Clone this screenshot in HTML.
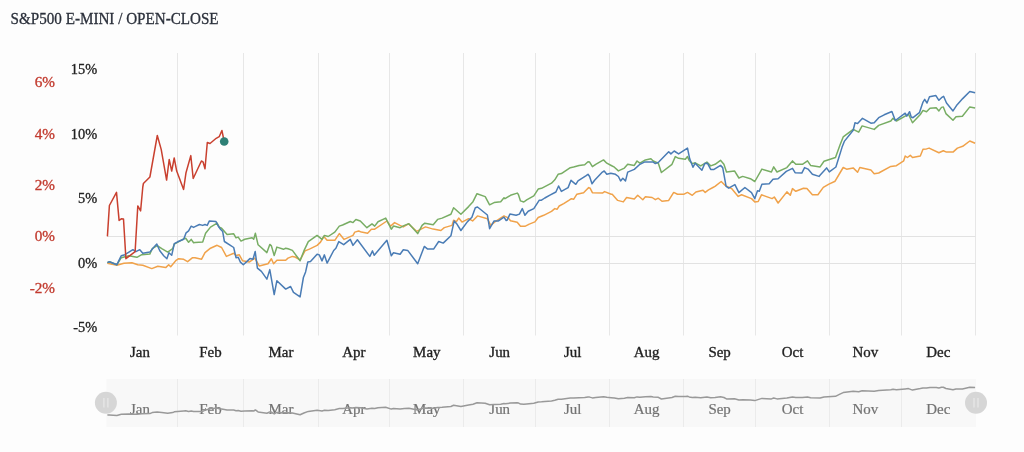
<!DOCTYPE html><html><head><meta charset="utf-8"><style>html,body{margin:0;padding:0;background:#fdfdfd;}svg{display:block;will-change:transform;}</style></head><body>
<svg width="1024" height="452" viewBox="0 0 1024 452">
<rect width="1024" height="452" fill="#fdfdfd"/>
<text x="10.6" y="24.0" font-family="Liberation Serif" font-size="16.2" fill="#2b303b" stroke="#2b303b" stroke-width="0.3" textLength="208" lengthAdjust="spacingAndGlyphs">S&amp;P500 E-MINI / OPEN-CLOSE</text>
<path d="M177.5 53V335.5 M243.5 53V335.5 M318.5 53V335.5 M389.5 53V335.5 M463.5 53V335.5 M535.5 53V335.5 M609.5 53V335.5 M683.5 53V335.5 M755.5 53V335.5 M829.5 53V335.5 M901.5 53V335.5 M975.5 53V335.5" stroke="#e7e7e7" stroke-width="1" fill="none"/>
<path d="M107 236.5H975.5 M107 263.5H975.5" stroke="#e2e2e2" stroke-width="1" fill="none"/>
<text transform="translate(97.2 74.3) scale(1.06 1)" font-family="Liberation Serif" font-size="13.6" fill="#222" stroke="#222" stroke-width="0.3" text-anchor="end">15%</text>
<text transform="translate(97.2 138.9) scale(1.06 1)" font-family="Liberation Serif" font-size="13.6" fill="#222" stroke="#222" stroke-width="0.3" text-anchor="end">10%</text>
<text transform="translate(97.2 203.3) scale(1.06 1)" font-family="Liberation Serif" font-size="13.6" fill="#222" stroke="#222" stroke-width="0.3" text-anchor="end">5%</text>
<text transform="translate(97.2 267.7) scale(1.06 1)" font-family="Liberation Serif" font-size="13.6" fill="#222" stroke="#222" stroke-width="0.3" text-anchor="end">0%</text>
<text transform="translate(97.2 332.2) scale(1.06 1)" font-family="Liberation Serif" font-size="13.6" fill="#222" stroke="#222" stroke-width="0.3" text-anchor="end">-5%</text>
<text transform="translate(55 86.8) scale(1.12 1)" font-family="Liberation Serif" font-size="13.6" fill="#c23b2f" stroke="#c23b2f" stroke-width="0.3" text-anchor="end">6%</text>
<text transform="translate(55 138.9) scale(1.12 1)" font-family="Liberation Serif" font-size="13.6" fill="#c23b2f" stroke="#c23b2f" stroke-width="0.3" text-anchor="end">4%</text>
<text transform="translate(55 189.8) scale(1.12 1)" font-family="Liberation Serif" font-size="13.6" fill="#c23b2f" stroke="#c23b2f" stroke-width="0.3" text-anchor="end">2%</text>
<text transform="translate(55 240.8) scale(1.12 1)" font-family="Liberation Serif" font-size="13.6" fill="#c23b2f" stroke="#c23b2f" stroke-width="0.3" text-anchor="end">0%</text>
<text transform="translate(55 292.7) scale(1.12 1)" font-family="Liberation Serif" font-size="13.6" fill="#c23b2f" stroke="#c23b2f" stroke-width="0.3" text-anchor="end">-2%</text>
<text transform="translate(140.0 357.1) scale(1.10 1)" font-family="Liberation Serif" font-size="13.6" fill="#222" stroke="#222" stroke-width="0.3" text-anchor="middle">Jan</text>
<text transform="translate(210.5 357.1) scale(1.10 1)" font-family="Liberation Serif" font-size="13.6" fill="#222" stroke="#222" stroke-width="0.3" text-anchor="middle">Feb</text>
<text transform="translate(281.0 357.1) scale(1.10 1)" font-family="Liberation Serif" font-size="13.6" fill="#222" stroke="#222" stroke-width="0.3" text-anchor="middle">Mar</text>
<text transform="translate(353.9 357.1) scale(1.10 1)" font-family="Liberation Serif" font-size="13.6" fill="#222" stroke="#222" stroke-width="0.3" text-anchor="middle">Apr</text>
<text transform="translate(426.8 357.1) scale(1.10 1)" font-family="Liberation Serif" font-size="13.6" fill="#222" stroke="#222" stroke-width="0.3" text-anchor="middle">May</text>
<text transform="translate(499.7 357.1) scale(1.10 1)" font-family="Liberation Serif" font-size="13.6" fill="#222" stroke="#222" stroke-width="0.3" text-anchor="middle">Jun</text>
<text transform="translate(572.6 357.1) scale(1.10 1)" font-family="Liberation Serif" font-size="13.6" fill="#222" stroke="#222" stroke-width="0.3" text-anchor="middle">Jul</text>
<text transform="translate(646.7 357.1) scale(1.10 1)" font-family="Liberation Serif" font-size="13.6" fill="#222" stroke="#222" stroke-width="0.3" text-anchor="middle">Aug</text>
<text transform="translate(719.6 357.1) scale(1.10 1)" font-family="Liberation Serif" font-size="13.6" fill="#222" stroke="#222" stroke-width="0.3" text-anchor="middle">Sep</text>
<text transform="translate(792.5 357.1) scale(1.10 1)" font-family="Liberation Serif" font-size="13.6" fill="#222" stroke="#222" stroke-width="0.3" text-anchor="middle">Oct</text>
<text transform="translate(865.4 357.1) scale(1.10 1)" font-family="Liberation Serif" font-size="13.6" fill="#222" stroke="#222" stroke-width="0.3" text-anchor="middle">Nov</text>
<text transform="translate(938.3 357.1) scale(1.10 1)" font-family="Liberation Serif" font-size="13.6" fill="#222" stroke="#222" stroke-width="0.3" text-anchor="middle">Dec</text>
<path d="M107.4 263.3 L116.9 265.3 L123.9 263.3 L131.9 262.7 L137.8 264.7 L142.8 265.3 L151.8 268.6 L157.8 266.3 L165.7 267.6 L168.7 264.7 L170.7 266.7 L175.7 260.7 L178.7 258.7 L183.7 259.3 L187.6 261.7 L192.6 257.7 L195.0 257.7 L201.6 259.2 L205.0 252.6 L210.5 248.2 L217.1 245.3 L221.6 247.5 L226.4 256.4 L233.7 253.3 L236.0 255.5 L239.3 254.8 L242.6 260.8 L249.2 262.1 L254.8 258.1 L259.2 265.9 L268.0 263.7 L271.4 258.8 L273.6 263.7 L276.9 260.3 L285.7 260.3 L288.0 258.1 L292.4 256.4 L295.0 257.0 L300.1 259.9 L305.0 250.9 L309.4 249.1 L317.1 245.4 L320.5 242.1 L323.8 236.5 L327.1 240.3 L334.8 240.3 L339.3 233.6 L344.1 239.4 L353.0 235.4 L354.8 232.1 L358.7 231.0 L361.4 232.1 L367.6 233.2 L371.4 229.2 L374.7 229.2 L386.9 221.0 L390.6 226.1 L394.6 222.6 L400.0 225.4 L403.3 226.9 L408.4 223.8 L416.6 231.3 L425.5 226.9 L433.2 229.1 L440.9 230.5 L444.3 227.6 L452.0 225.4 L453.6 220.3 L456.4 221.6 L458.7 218.1 L462.0 222.1 L468.6 218.7 L472.6 220.9 L477.5 215.9 L487.4 218.7 L490.7 225.4 L495.2 221.6 L504.0 215.9 L505.0 216.4 L508.3 217.9 L510.5 220.8 L517.2 222.3 L520.5 226.3 L524.9 226.3 L529.3 224.1 L534.9 221.9 L538.2 217.5 L543.7 215.3 L551.5 211.3 L554.8 208.6 L557.0 209.3 L559.2 206.0 L563.7 203.7 L569.2 200.2 L571.4 198.7 L573.6 199.3 L576.9 194.2 L583.6 192.7 L586.5 189.8 L588.7 187.6 L590.2 188.3 L592.4 192.7 L602.4 193.1 L604.6 191.6 L611.2 194.2 L612.2 194.2 L617.7 200.4 L623.3 201.9 L626.6 197.5 L634.3 199.1 L637.7 195.3 L642.8 199.7 L645.4 196.8 L652.1 197.5 L655.4 199.7 L658.3 198.2 L662.0 201.3 L668.7 200.4 L673.7 192.4 L677.5 194.2 L684.1 194.2 L687.5 192.4 L692.3 195.3 L695.9 192.0 L703.0 190.2 L705.2 192.4 L708.5 189.8 L712.9 187.5 L715.0 186.4 L721.2 181.5 L725.0 185.3 L731.6 188.6 L738.2 196.4 L741.6 194.8 L751.5 198.6 L754.8 201.9 L758.2 201.5 L761.5 194.8 L772.1 198.6 L774.3 197.0 L778.1 203.0 L786.9 191.9 L790.3 195.3 L792.5 188.6 L795.8 191.3 L803.5 188.2 L806.9 188.6 L812.4 194.8 L817.9 194.8 L823.3 187.4 L828.9 184.1 L835.1 181.2 L839.9 173.0 L843.2 167.5 L846.6 169.2 L853.2 167.9 L857.6 172.3 L859.8 167.5 L870.9 170.1 L874.2 173.7 L878.7 173.0 L890.8 166.4 L896.4 165.7 L903.7 160.8 L905.2 156.0 L907.4 157.5 L910.3 155.3 L912.5 157.5 L920.3 156.0 L923.0 149.3 L926.5 148.9 L929.1 148.1 L938.9 152.8 L943.3 150.7 L946.5 152.1 L953.0 152.1 L957.4 148.1 L962.7 146.3 L969.8 141.0 L975.1 143.3" stroke="#f0a24a" stroke-width="1.5" fill="none" stroke-linejoin="round"/>
<path d="M107.4 262.7 L109.4 261.7 L116.9 264.7 L121.3 257.7 L128.9 255.7 L136.9 257.3 L141.8 254.7 L149.8 254.1 L152.2 248.7 L157.2 245.7 L161.8 248.7 L167.7 252.1 L172.7 248.7 L174.3 244.1 L183.7 238.8 L185.7 238.2 L188.6 242.2 L191.2 239.4 L193.6 242.7 L195.0 242.6 L202.7 242.0 L205.6 233.3 L210.5 227.1 L217.1 223.1 L219.3 227.1 L221.6 228.2 L227.1 234.4 L233.7 233.8 L236.0 237.8 L238.2 237.1 L241.0 241.1 L244.8 239.3 L252.1 237.8 L253.7 239.3 L255.4 233.3 L258.1 244.8 L266.9 252.6 L269.8 244.4 L271.4 245.9 L274.2 255.5 L276.9 247.1 L283.5 249.3 L285.7 248.2 L288.0 248.8 L292.4 250.4 L300.1 260.8 L303.9 250.9 L308.3 241.6 L317.1 235.4 L322.0 239.4 L324.4 235.4 L328.2 236.5 L334.8 232.1 L339.3 226.1 L342.6 225.0 L350.3 221.5 L353.0 222.6 L355.9 219.5 L360.3 221.0 L366.9 227.7 L372.0 223.9 L374.7 226.1 L378.0 221.7 L385.7 218.1 L391.3 229.2 L393.5 226.1 L400.1 227.7 L404.4 225.4 L408.9 223.8 L417.7 233.6 L422.1 225.4 L424.8 223.2 L433.2 224.7 L437.6 219.4 L442.1 218.1 L450.9 214.3 L453.6 207.7 L460.9 214.3 L468.6 206.6 L473.0 201.7 L477.0 193.7 L485.2 196.6 L489.6 204.8 L494.1 202.6 L500.7 201.7 L504.0 197.7 L505.0 198.7 L510.5 195.3 L517.2 193.1 L518.3 194.2 L520.5 200.9 L523.8 202.0 L526.7 199.8 L533.8 195.8 L538.2 189.1 L541.5 188.3 L551.5 183.2 L554.8 179.8 L558.1 174.3 L561.4 173.6 L570.3 167.7 L573.6 167.0 L579.1 165.5 L584.7 164.8 L588.0 161.7 L589.6 162.1 L592.4 166.6 L595.7 164.3 L603.5 159.9 L606.8 163.2 L611.2 165.5 L614.4 167.2 L618.4 170.9 L624.4 168.1 L627.7 164.3 L634.3 165.4 L637.0 161.0 L639.9 163.2 L645.4 159.9 L650.9 158.8 L653.2 161.0 L658.3 163.2 L661.4 172.5 L672.0 164.3 L675.3 156.6 L678.6 158.3 L685.3 159.2 L687.5 156.6 L689.2 160.5 L692.3 163.6 L695.2 162.8 L700.7 165.9 L706.9 162.1 L710.7 165.9 L715.1 164.3 L720.5 160.3 L723.9 164.3 L726.5 172.0 L734.5 170.9 L738.9 178.0 L742.7 176.4 L750.4 178.7 L754.8 181.5 L761.9 169.1 L771.4 172.0 L773.7 166.9 L777.0 172.0 L786.9 167.6 L792.5 160.9 L795.8 164.3 L802.4 164.3 L807.5 160.9 L810.6 165.4 L820.1 166.9 L824.0 161.3 L835.5 157.5 L839.9 145.3 L843.2 136.9 L853.2 129.4 L858.7 132.1 L862.1 125.9 L874.2 129.4 L878.7 125.4 L890.8 121.0 L893.0 118.3 L896.4 121.0 L905.2 116.1 L908.5 114.3 L912.5 122.8 L920.3 114.5 L923.0 110.4 L926.5 111.8 L930.0 108.3 L936.2 107.8 L938.9 110.9 L941.5 107.4 L943.3 106.9 L945.9 113.6 L953.0 120.3 L956.0 116.8 L962.4 116.2 L969.8 106.9 L975.1 107.9" stroke="#78ad64" stroke-width="1.5" fill="none" stroke-linejoin="round"/>
<path d="M107.4 262.7 L109.4 261.7 L116.9 264.7 L121.3 255.7 L124.9 254.7 L132.9 249.7 L135.9 251.7 L139.8 249.7 L142.8 253.3 L149.8 252.1 L153.4 247.7 L156.8 244.1 L159.8 250.7 L163.7 255.7 L166.9 258.7 L168.9 252.7 L171.7 255.3 L174.3 243.7 L177.7 241.8 L183.7 239.2 L186.1 232.8 L188.6 230.8 L191.2 226.2 L193.6 227.4 L195.0 226.7 L199.4 224.5 L202.7 225.4 L205.0 224.5 L207.2 225.4 L209.4 220.9 L216.0 221.6 L218.2 226.0 L220.5 229.3 L222.7 231.6 L224.4 241.5 L230.4 245.3 L233.7 247.5 L236.0 257.7 L238.2 257.2 L240.4 262.1 L243.3 264.8 L247.0 261.4 L249.9 258.6 L253.0 259.2 L255.2 251.5 L257.4 268.1 L261.4 271.4 L266.9 279.1 L269.8 269.6 L274.2 294.6 L276.9 280.7 L285.7 289.1 L290.6 286.5 L293.5 292.4 L300.1 296.9 L303.4 277.5 L305.6 271.9 L307.8 262.0 L310.5 261.5 L317.1 254.2 L319.3 254.9 L322.0 260.9 L324.4 254.9 L327.1 263.1 L333.7 250.5 L335.9 248.3 L338.8 241.6 L343.7 244.7 L350.3 239.4 L353.0 245.4 L357.4 239.8 L369.8 256.4 L372.5 250.9 L374.2 255.3 L386.9 240.3 L391.3 255.8 L393.5 252.7 L400.1 254.2 L403.3 249.7 L407.7 250.4 L417.7 263.7 L424.3 246.4 L427.7 249.1 L433.6 249.1 L438.7 241.5 L443.2 243.1 L450.9 235.8 L454.2 220.9 L457.1 224.3 L460.9 230.5 L467.5 221.6 L471.9 217.2 L475.3 207.7 L477.5 207.0 L487.4 215.0 L489.6 228.7 L494.1 220.9 L498.5 220.9 L500.7 219.4 L504.0 217.2 L506.2 220.5 L507.2 220.1 L509.9 214.1 L516.1 215.3 L519.4 214.1 L522.3 208.6 L524.9 215.3 L528.2 211.3 L533.8 208.6 L539.3 200.2 L541.5 200.2 L544.8 198.0 L550.4 194.9 L555.9 192.0 L558.6 186.0 L561.4 191.4 L568.1 187.6 L571.0 180.3 L575.8 184.3 L578.0 180.9 L585.8 175.9 L588.0 174.3 L589.6 176.5 L592.0 183.8 L594.6 180.3 L602.4 172.1 L604.2 171.0 L606.8 174.3 L610.8 173.2 L615.5 174.3 L618.4 176.5 L620.6 180.9 L622.8 178.3 L625.5 180.9 L627.7 172.1 L634.3 169.4 L639.9 164.3 L644.3 162.1 L653.2 162.1 L655.4 163.6 L658.7 162.1 L668.7 151.7 L670.9 153.9 L674.2 151.0 L678.6 153.9 L687.5 148.1 L689.7 158.8 L693.0 167.2 L695.2 163.2 L701.9 170.3 L704.7 163.6 L707.4 163.2 L710.7 169.4 L714.0 169.4 L720.5 165.4 L722.7 167.6 L726.1 186.4 L728.7 188.2 L734.9 184.6 L738.9 192.6 L744.9 187.5 L751.5 192.6 L754.8 198.6 L757.5 190.8 L759.3 191.3 L761.9 184.2 L769.2 183.7 L773.0 179.3 L778.1 178.7 L786.3 171.4 L792.5 168.3 L795.1 172.7 L801.8 173.1 L804.6 167.6 L808.0 169.1 L812.4 174.2 L819.0 176.4 L820.0 175.2 L826.6 167.9 L829.3 171.9 L835.9 167.0 L842.1 147.1 L844.3 141.4 L853.2 130.3 L855.0 122.8 L857.6 123.6 L862.5 118.3 L870.9 123.2 L874.2 122.8 L878.7 117.7 L884.2 114.8 L891.9 111.5 L895.3 120.5 L905.2 113.2 L906.8 116.1 L909.6 111.7 L911.2 117.0 L913.0 117.7 L919.4 112.7 L923.0 102.1 L924.7 99.4 L927.0 103.0 L929.5 96.8 L935.9 95.6 L938.9 100.3 L941.5 97.7 L943.6 96.3 L946.5 103.0 L953.0 110.9 L956.5 105.6 L962.7 98.6 L969.8 91.5 L975.1 92.7" stroke="#4a7cb5" stroke-width="1.5" fill="none" stroke-linejoin="round"/>
<path d="M107.4 236.4 L109.4 205.5 L116.5 192.4 L119.1 220.4 L121.3 218.8 L123.5 219.0 L125.9 258.7 L135.1 251.7 L137.8 205.9 L140.6 210.9 L142.8 187.0 L143.4 183.5 L149.9 177.0 L157.3 135.5 L161.2 149.4 L166.6 180.1 L169.2 159.5 L171.7 171.1 L174.2 158.0 L176.7 171.1 L183.6 189.4 L186.0 172.7 L190.8 155.6 L193.2 178.5 L201.4 161.0 L203.0 161.8 L205.0 168.8 L207.3 142.5 L210.0 143.5 L216.2 138.3 L219.2 136.7 L221.9 130.5 L224.2 141.4" stroke="#c9402f" stroke-width="1.5" fill="none" stroke-linejoin="round"/>
<circle cx="224.2" cy="141.5" r="4.3" fill="#2e8076"/>
<rect x="106.5" y="379" width="869.5" height="48" fill="#f8f8f8"/>
<path d="M177.5 379V427 M243.5 379V427 M318.5 379V427 M389.5 379V427 M463.5 379V427 M535.5 379V427 M609.5 379V427 M683.5 379V427 M755.5 379V427 M829.5 379V427 M901.5 379V427" stroke="#ebebeb" stroke-width="1" fill="none"/>
<text transform="translate(140.0 413.8) scale(1.10 1)" font-family="Liberation Serif" font-size="13.6" fill="#737373" stroke="#737373" stroke-width="0.2" text-anchor="middle">Jan</text>
<text transform="translate(210.5 413.8) scale(1.10 1)" font-family="Liberation Serif" font-size="13.6" fill="#737373" stroke="#737373" stroke-width="0.2" text-anchor="middle">Feb</text>
<text transform="translate(281.0 413.8) scale(1.10 1)" font-family="Liberation Serif" font-size="13.6" fill="#737373" stroke="#737373" stroke-width="0.2" text-anchor="middle">Mar</text>
<text transform="translate(353.9 413.8) scale(1.10 1)" font-family="Liberation Serif" font-size="13.6" fill="#737373" stroke="#737373" stroke-width="0.2" text-anchor="middle">Apr</text>
<text transform="translate(426.8 413.8) scale(1.10 1)" font-family="Liberation Serif" font-size="13.6" fill="#737373" stroke="#737373" stroke-width="0.2" text-anchor="middle">May</text>
<text transform="translate(499.7 413.8) scale(1.10 1)" font-family="Liberation Serif" font-size="13.6" fill="#737373" stroke="#737373" stroke-width="0.2" text-anchor="middle">Jun</text>
<text transform="translate(572.6 413.8) scale(1.10 1)" font-family="Liberation Serif" font-size="13.6" fill="#737373" stroke="#737373" stroke-width="0.2" text-anchor="middle">Jul</text>
<text transform="translate(646.7 413.8) scale(1.10 1)" font-family="Liberation Serif" font-size="13.6" fill="#737373" stroke="#737373" stroke-width="0.2" text-anchor="middle">Aug</text>
<text transform="translate(719.6 413.8) scale(1.10 1)" font-family="Liberation Serif" font-size="13.6" fill="#737373" stroke="#737373" stroke-width="0.2" text-anchor="middle">Sep</text>
<text transform="translate(792.5 413.8) scale(1.10 1)" font-family="Liberation Serif" font-size="13.6" fill="#737373" stroke="#737373" stroke-width="0.2" text-anchor="middle">Oct</text>
<text transform="translate(865.4 413.8) scale(1.10 1)" font-family="Liberation Serif" font-size="13.6" fill="#737373" stroke="#737373" stroke-width="0.2" text-anchor="middle">Nov</text>
<text transform="translate(938.3 413.8) scale(1.10 1)" font-family="Liberation Serif" font-size="13.6" fill="#737373" stroke="#737373" stroke-width="0.2" text-anchor="middle">Dec</text>
<path d="M107.4 415.1 L109.4 415.0 L116.9 415.5 L121.3 414.3 L128.9 413.9 L136.9 414.2 L141.8 413.7 L149.8 413.6 L152.2 412.6 L157.2 412.1 L161.8 412.6 L167.7 413.2 L172.7 412.6 L174.3 411.8 L183.7 410.9 L185.7 410.8 L188.6 411.5 L191.2 411.0 L193.6 411.6 L195.0 411.5 L202.7 411.4 L205.6 409.9 L210.5 408.8 L217.1 408.1 L219.3 408.8 L221.6 409.0 L227.1 410.1 L233.7 410.0 L236.0 410.7 L238.2 410.6 L241.0 411.3 L244.8 411.0 L252.1 410.7 L253.7 411.0 L255.4 409.9 L258.1 411.9 L266.9 413.3 L269.8 411.9 L271.4 412.1 L274.2 413.9 L276.9 412.4 L283.5 412.7 L285.7 412.6 L288.0 412.7 L292.4 412.9 L300.1 414.8 L303.9 413.0 L308.3 411.4 L317.1 410.3 L322.0 411.0 L324.4 410.3 L328.2 410.5 L334.8 409.7 L339.3 408.6 L342.6 408.4 L350.3 407.8 L353.0 408.0 L355.9 407.4 L360.3 407.7 L366.9 408.9 L372.0 408.2 L374.7 408.6 L378.0 407.8 L385.7 407.2 L391.3 409.1 L393.5 408.6 L400.1 408.9 L404.4 408.5 L408.9 408.2 L417.7 409.9 L422.1 408.5 L424.8 408.1 L433.2 408.3 L437.6 407.4 L442.1 407.2 L450.9 406.5 L453.6 405.3 L460.9 406.5 L468.6 405.1 L473.0 404.2 L477.0 402.8 L485.2 403.3 L489.6 404.8 L494.1 404.4 L500.7 404.2 L504.0 403.5 L505.0 403.7 L510.5 403.1 L517.2 402.7 L518.3 402.9 L520.5 404.1 L523.8 404.3 L526.7 403.9 L533.8 403.2 L538.2 402.0 L541.5 401.8 L551.5 400.9 L554.8 400.3 L558.1 399.3 L561.4 399.2 L570.3 398.1 L573.6 398.0 L579.1 397.7 L584.7 397.6 L588.0 397.1 L589.6 397.1 L592.4 397.9 L595.7 397.5 L603.5 396.7 L606.8 397.3 L611.2 397.7 L614.4 398.1 L618.4 398.7 L624.4 398.2 L627.7 397.5 L634.3 397.7 L637.0 396.9 L639.9 397.3 L645.4 396.7 L650.9 396.5 L653.2 396.9 L658.3 397.3 L661.4 399.0 L672.0 397.5 L675.3 396.2 L678.6 396.5 L685.3 396.6 L687.5 396.2 L689.2 396.9 L692.3 397.4 L695.2 397.3 L700.7 397.8 L706.9 397.1 L710.7 397.8 L715.1 397.5 L720.5 396.8 L723.9 397.5 L726.5 398.9 L734.5 398.7 L738.9 400.0 L742.7 399.7 L750.4 400.1 L754.8 400.6 L761.9 398.4 L771.4 398.9 L773.7 398.0 L777.0 398.9 L786.9 398.1 L792.5 396.9 L795.8 397.5 L802.4 397.5 L807.5 396.9 L810.6 397.7 L820.1 398.0 L824.0 397.0 L835.5 396.3 L839.9 394.1 L843.2 392.6 L853.2 391.3 L858.7 391.8 L862.1 390.7 L874.2 391.3 L878.7 390.6 L890.8 389.8 L893.0 389.3 L896.4 389.8 L905.2 388.9 L908.5 388.6 L912.5 390.1 L920.3 388.6 L923.0 387.9 L926.5 388.1 L930.0 387.5 L936.2 387.4 L938.9 388.0 L941.5 387.3 L943.3 387.3 L945.9 388.5 L953.0 389.7 L956.0 389.0 L962.4 388.9 L969.8 387.3 L975.1 387.4" stroke="#999" stroke-width="1.5" fill="none" stroke-linejoin="round"/>
<circle cx="105.9" cy="402.8" r="11" fill="#d6d6d6"/>
<path d="M103.9 398V407.5 M107.9 398V407.5" stroke="#ececec" stroke-width="1"/>
<circle cx="976.0" cy="402.8" r="11" fill="#d6d6d6"/>
<path d="M974.0 398V407.5 M978.0 398V407.5" stroke="#ececec" stroke-width="1"/>
</svg></body></html>
